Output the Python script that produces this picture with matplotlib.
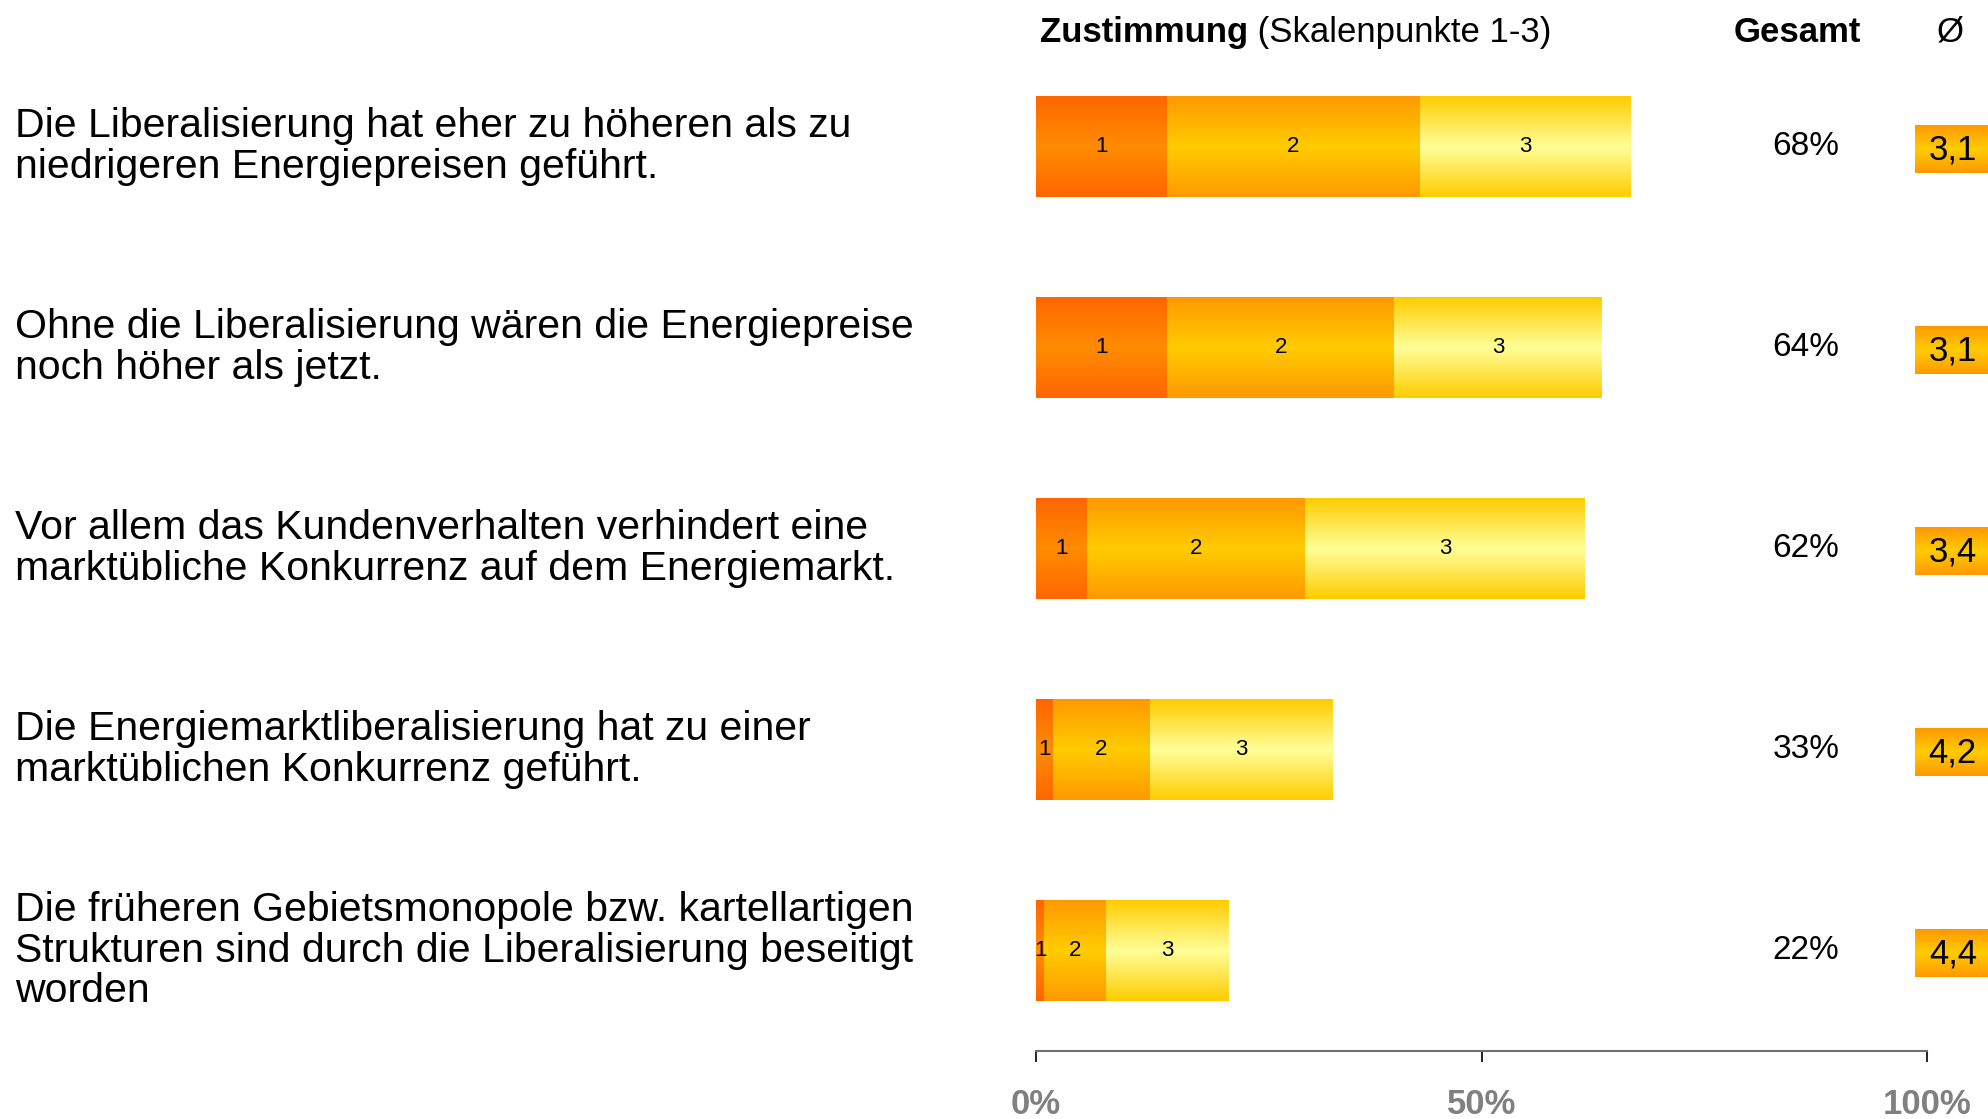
import matplotlib
matplotlib.use("Agg")
import matplotlib.pyplot as plt
import numpy as np
from matplotlib.colors import LinearSegmentedColormap
from matplotlib.transforms import blended_transform_factory

plt.rcParams["font.family"] = ["Liberation Sans", "DejaVu Sans"]

# statements (one per row, top to bottom)
statements = [
    "Die Liberalisierung hat eher zu höheren als zu\nniedrigeren Energiepreisen geführt.",
    "Ohne die Liberalisierung wären die Energiepreise\nnoch höher als jetzt.",
    "Vor allem das Kundenverhalten verhindert eine\nmarktübliche Konkurrenz auf dem Energiemarkt.",
    "Die Energiemarktliberalisierung hat zu einer\nmarktüblichen Konkurrenz geführt.",
    "Die früheren Gebietsmonopole bzw. kartellartigen\nStrukturen sind durch die Liberalisierung beseitigt\nworden",
]
# share of answers per scale point (percent)
point1 = [14.7, 14.7, 5.7, 1.9, 0.9]
point2 = [28.4, 25.5, 24.5, 10.9, 7.0]
point3 = [23.6, 23.3, 31.4, 20.5, 13.7]
total = [68, 64, 62, 33, 22]
mean_score = [3.1, 3.1, 3.4, 4.2, 4.4]
x_ticks = [0, 50, 100]
x_ticklabels = ["0%", "50%", "100%"]

seg_colors = [("#FF6600", "#FF8C00"), ("#FF9900", "#FFCC00"), ("#FFCC00", "#FFFF99")]
box_colors = ("#FF9900", "#FFCC00")

W, H = 1988, 1119
fig = plt.figure(figsize=(W / 100, H / 100), dpi=100)
ax = fig.add_axes([1036 / W, 1 - 1051 / H, 891 / W, 1005 / H])

grad = np.linspace(0, 1, 200)[:, None]


def gradient_rect(x0, x1, yc, h, edge, mid, clip=True):
    cmap = LinearSegmentedColormap.from_list("g", [edge, mid, edge])
    im = ax.imshow(grad, cmap=cmap, extent=(x0, x1, yc + h / 2, yc - h / 2),
                   aspect="auto", interpolation="bicubic", zorder=2)
    im.set_clip_on(clip)
    return im


bar_h = 0.5
fig_x = blended_transform_factory(fig.transFigure, ax.transData)
for i in range(len(statements)):
    left = 0.0
    for k, vals in enumerate([point1, point2, point3]):
        v = vals[i]
        gradient_rect(left, left + v, i, bar_h, *seg_colors[k])
        ax.text(left + v / 2, i, str(k + 1), ha="center", va="center",
                fontsize=16, zorder=3)
        left += v
    ax.text(86.4, i, f"{total[i]}%", ha="center", va="center", fontsize=24)
    gradient_rect(98.65, 115, i + 0.015, 0.234, *box_colors, clip=False)
    ax.text(102.9, i + 0.015, f"{mean_score[i]:.1f}".replace(".", ","),
            ha="center", va="center", fontsize=25, zorder=3, clip_on=False)
    fig.text(15 / W, i, statements[i], transform=fig_x, ha="left", va="center",
             fontsize=29.5, linespacing=1.08)

ax.set_xlim(0, 100)
ax.set_ylim(4.5, -0.5)

# column headers
hy = -0.568
t1 = ax.text(0.4, hy, "Zustimmung", fontweight="bold", fontsize=25,
             ha="left", va="center")
ax.annotate(" (Skalenpunkte 1-3)", xy=(1, 0.5), xycoords=t1, fontsize=25,
            ha="left", va="center")
ax.text(85.5, hy, "Gesamt", fontweight="bold", fontsize=25, ha="center", va="center")
ax.text(102.6, hy, "Ø", fontsize=25, ha="center", va="center", clip_on=False)

for s in ["top", "right", "left"]:
    ax.spines[s].set_visible(False)
ax.spines["bottom"].set_color("#707070")
ax.spines["bottom"].set_linewidth(1.5)
ax.set_yticks([])
ax.set_xticks(x_ticks)
ax.set_xticklabels(x_ticklabels)
ax.tick_params(axis="x", direction="out", length=8, width=1.2, color="black",
               pad=19, labelsize=25, labelcolor="#808080")
for lab in ax.get_xticklabels():
    lab.set_fontweight("bold")

fig.savefig("out.png", dpi=100)
